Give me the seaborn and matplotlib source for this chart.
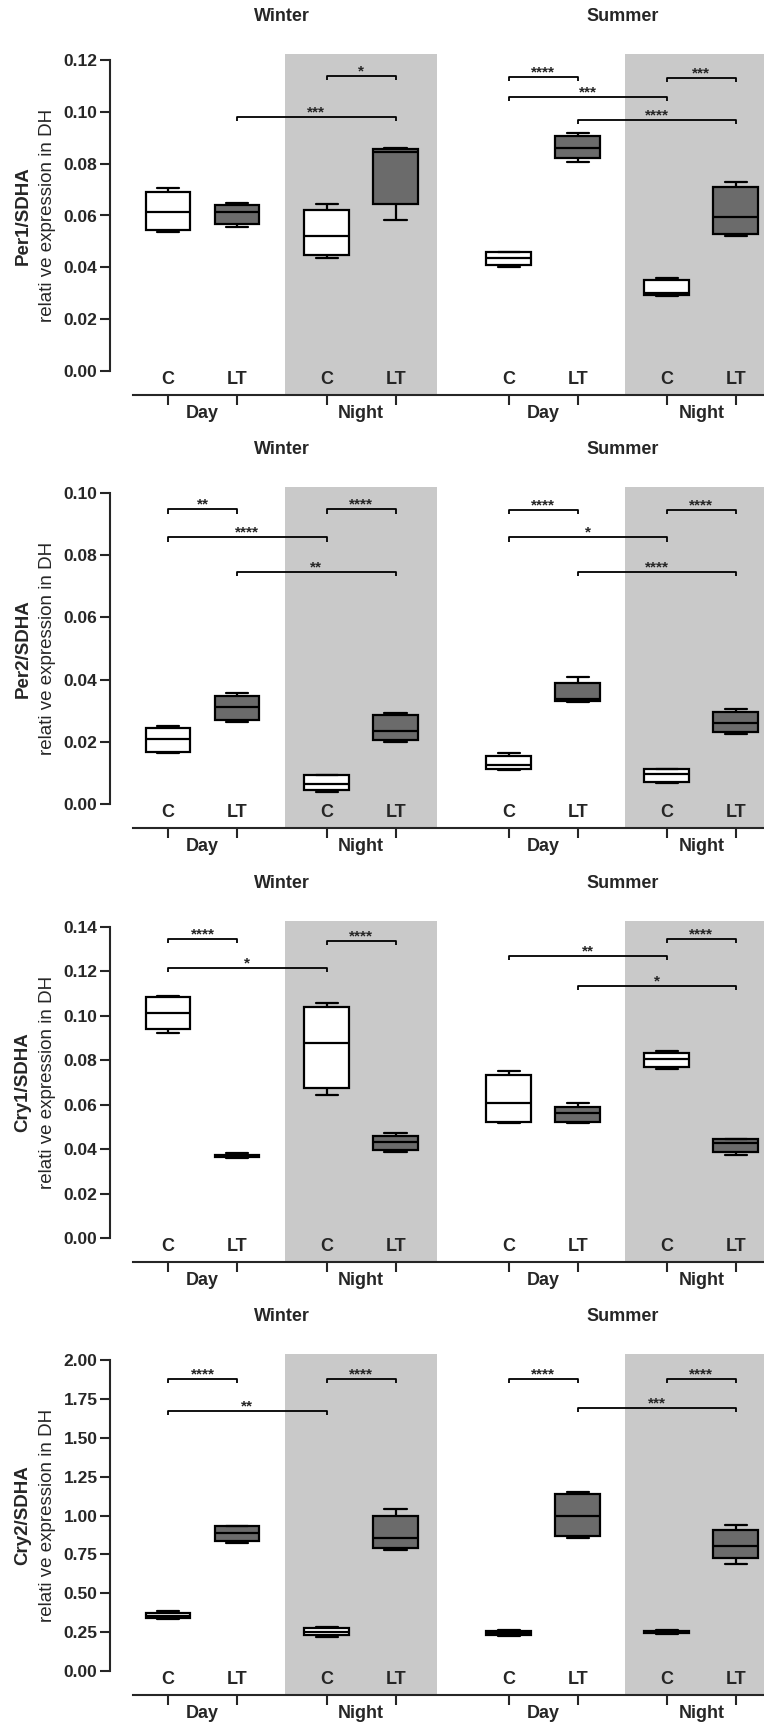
import numpy as np
import pandas as pd
import matplotlib.pyplot as plt
import matplotlib.transforms as mtransforms
from matplotlib.ticker import FormatStrFormatter
import seaborn as sns

# groups in plotting order
seasons = ["Winter", "Winter", "Winter", "Winter", "Summer", "Summer", "Summer", "Summer"]
phases = ["Day", "Day", "Night", "Night", "Day", "Day", "Night", "Night"]
treatments = ["C", "LT", "C", "LT", "C", "LT", "C", "LT"]

genes = ["Per1/SDHA", "Per2/SDHA", "Cry1/SDHA", "Cry2/SDHA"]
ylabel2 = "relati ve expression in DH"

# min, q1, median, q3, max for each group
per1 = [
    [0.0535, 0.0543, 0.0612, 0.0689, 0.0705],
    [0.0557, 0.0566, 0.0613, 0.0642, 0.0649],
    [0.0435, 0.0449, 0.0521, 0.0621, 0.0644],
    [0.0583, 0.0643, 0.0846, 0.0857, 0.0862],
    [0.0402, 0.0409, 0.0437, 0.0458, 0.0460],
    [0.0805, 0.0820, 0.0860, 0.0907, 0.0920],
    [0.0288, 0.0294, 0.0300, 0.0351, 0.0357],
    [0.0521, 0.0527, 0.0595, 0.0711, 0.0728],
]
per2 = [
    [0.0163, 0.0168, 0.0208, 0.0245, 0.0251],
    [0.0264, 0.0270, 0.0311, 0.0348, 0.0356],
    [0.0040, 0.0045, 0.0064, 0.0092, 0.0093],
    [0.0199, 0.0206, 0.0235, 0.0286, 0.0291],
    [0.0109, 0.0114, 0.0125, 0.0155, 0.0163],
    [0.0329, 0.0330, 0.0337, 0.0388, 0.0407],
    [0.0067, 0.0072, 0.0098, 0.0111, 0.0112],
    [0.0225, 0.0232, 0.0259, 0.0297, 0.0304],
]
cry1 = [
    [0.0923, 0.0940, 0.1013, 0.1085, 0.1091],
    [0.0362, 0.0365, 0.0370, 0.0375, 0.0381],
    [0.0642, 0.0677, 0.0878, 0.1040, 0.1057],
    [0.0389, 0.0396, 0.0434, 0.0461, 0.0471],
    [0.0516, 0.0524, 0.0606, 0.0734, 0.0752],
    [0.0516, 0.0524, 0.0561, 0.0588, 0.0606],
    [0.0759, 0.0768, 0.0804, 0.0831, 0.0840],
    [0.0372, 0.0387, 0.0429, 0.0444, 0.0446],
]
cry2 = [
    [0.335, 0.338, 0.351, 0.376, 0.387],
    [0.825, 0.835, 0.889, 0.931, 0.935],
    [0.220, 0.231, 0.252, 0.274, 0.286],
    [0.776, 0.788, 0.855, 0.996, 1.045],
    [0.225, 0.232, 0.245, 0.255, 0.262],
    [0.855, 0.865, 0.996, 1.141, 1.152],
    [0.238, 0.242, 0.250, 0.258, 0.262],
    [0.686, 0.724, 0.803, 0.906, 0.942],
]

# significance brackets: (group a, group b, height, stars)
per1_sig = [(2, 3, 0.1138, "*"), (1, 3, 0.0981, "***"), (4, 5, 0.1135, "****"),
            (4, 6, 0.1058, "***"), (5, 7, 0.0968, "****"), (6, 7, 0.1131, "***")]
per2_sig = [(0, 1, 0.0947, "**"), (0, 2, 0.0857, "****"), (1, 3, 0.0746, "**"),
            (2, 3, 0.0947, "****"), (4, 5, 0.0945, "****"), (4, 6, 0.0857, "*"),
            (5, 7, 0.0746, "****"), (6, 7, 0.0945, "****")]
cry1_sig = [(0, 1, 0.1345, "****"), (0, 2, 0.1214, "*"), (2, 3, 0.1337, "****"),
            (4, 6, 0.1269, "**"), (5, 7, 0.1134, "*"), (6, 7, 0.1345, "****")]
cry2_sig = [(0, 1, 1.878, "****"), (0, 2, 1.673, "**"), (2, 3, 1.878, "****"),
            (4, 5, 1.878, "****"), (5, 7, 1.690, "***"), (6, 7, 1.878, "****")]

y_max = [0.12, 0.10, 0.14, 2.00]
y_step = [0.02, 0.02, 0.02, 0.25]

all_values = [per1, per2, cry1, cry2]
all_sig = [per1_sig, per2_sig, cry1_sig, cry2_sig]

# layout (x positions of the boxes, in units of the C-LT spacing)
positions = [0, 1, 2.30, 3.30, 4.94, 5.94, 7.23, 8.23]
x_min, x_max = -0.841, 8.638
panel_top_px = [54, 487, 921, 1354]
W, H = 764, 1726

sns.set_style("ticks")
plt.rcParams['font.family'] = ['Liberation Sans', 'DejaVu Sans']

fig = plt.figure(figsize=(W / 100, H / 100), dpi=100)
palette = {"C": "white", "LT": "#6b6b6b"}
night_gray = "#c9c9c9"

for p in range(4):
    top = panel_top_px[p]
    ax = fig.add_axes([110 / W, 1 - (top + 341) / H, 654 / W, 341 / H])
    ymax = y_max[p]

    rows = []
    for g in range(8):
        for v in all_values[p][g]:
            rows.append({"x": positions[g], "treat": treatments[g], "value": v})
    df = pd.DataFrame(rows)

    # night shading
    for c in [(positions[2] + positions[3]) / 2, (positions[6] + positions[7]) / 2]:
        ax.axvspan(c - 1.1, c + 1.1, color=night_gray, lw=0, zorder=0)

    sns.boxplot(data=df, x="x", y="value", hue="treat", palette=palette,
                native_scale=True, dodge=False, whis=(0, 100), width=0.65,
                linecolor="black", linewidth=1.6, saturation=1, legend=False,
                ax=ax, zorder=3)

    ax.set_xlim(x_min, x_max)
    ax.set_ylim(-24 / 311 * ymax, ymax + 6 / 311 * ymax)

    sns.despine(ax=ax)
    ax.spines['left'].set_bounds(0, ymax)
    ax.spines['bottom'].set_bounds(-0.507, x_max)
    for s in ['left', 'bottom']:
        ax.spines[s].set_linewidth(1.5)

    ax.set_yticks(np.arange(0, ymax + y_step[p] / 2, y_step[p]))
    ax.yaxis.set_major_formatter(FormatStrFormatter('%.2f'))
    ax.set_xticks(positions)
    ax.set_xticklabels([])
    ax.tick_params(axis='both', direction='out', length=7, width=1.5,
                   labelsize=12.5, pad=2)
    for lbl in ax.get_yticklabels():
        lbl.set_fontweight('bold')
    ax.set_xlabel("")
    ax.set_ylabel("")

    trans = mtransforms.blended_transform_factory(ax.transData, ax.transAxes)
    for g in range(8):
        ax.text(positions[g], 0.045, treatments[g], transform=trans,
                ha='center', va='center', fontsize=13, fontweight='bold')
    for g in range(0, 8, 2):
        ax.text((positions[g] + positions[g + 1]) / 2, -0.055, phases[g],
                transform=trans, ha='center', va='center', fontsize=13,
                fontweight='bold')
    for g in (0, 4):
        ax.text((positions[g] + positions[g + 3]) / 2, 1.11, seasons[g],
                transform=trans, ha='center', va='center', fontsize=13,
                fontweight='bold')

    # significance brackets
    drop = 0.013 * ymax
    for a, b, h, stars in all_sig[p]:
        xa, xb = positions[a], positions[b]
        ax.plot([xa, xa, xb, xb], [h - drop, h, h, h - drop], color='black',
                lw=1.3, zorder=4, solid_capstyle='butt')
        ax.annotate(stars, xy=((xa + xb) / 2, h), xytext=(0, 0.5),
                    textcoords='offset points', ha='center', va='baseline',
                    fontsize=11, fontweight='bold')

    # y label, two lines
    yc = 1 - (top + 6 + 311 / 2) / H
    fig.text(23 / W, yc, genes[p], rotation=90, ha='center', va='center',
             fontsize=13.5, fontweight='bold')
    fig.text(48 / W, yc, ylabel2, rotation=90, ha='center', va='center',
             fontsize=13.5)

plt.savefig('out.png', dpi=100)
